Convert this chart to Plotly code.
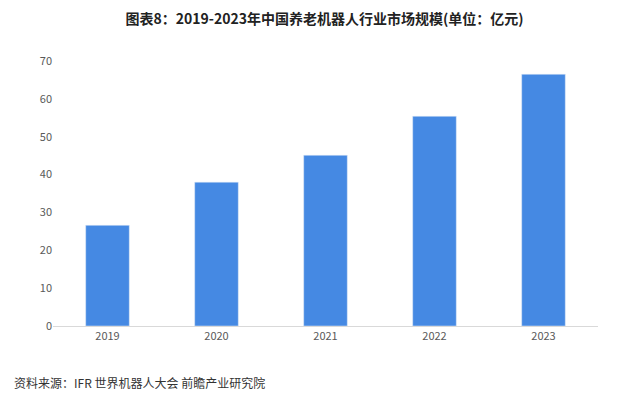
import plotly.graph_objects as go

years = ["2019", "2020", "2021", "2022", "2023"]
market_size = [26.6, 38.0, 45.1, 55.4, 66.5]
y_ticks = [0, 10, 20, 30, 40, 50, 60, 70]

fig = go.Figure()
fig.add_trace(go.Bar(x=years, y=market_size, marker_color="#4589e3", width=0.4))

fig.update_layout(
    width=633, height=405,
    paper_bgcolor="white", plot_bgcolor="white",
    margin=dict(l=45, r=43, t=53, b=87),
    font=dict(family="Noto Sans CJK SC", color="#595959", size=11),
    title=dict(text="<b>图表8：2019-2023年中国养老机器人行业市场规模(单位：亿元)</b>",
               x=0.5, y=0.985, xanchor="center", yanchor="top",
               font=dict(size=14, color="#222222")),
    showlegend=False,
    bargap=0.6,
)
fig.update_xaxes(showline=True, linecolor="#d9d9d9", ticks="", tickfont=dict(size=11))
fig.update_yaxes(range=[0, 70], tickvals=y_ticks, showgrid=False, zeroline=False,
                 tickfont=dict(size=11))
fig.add_annotation(text="资料来源：IFR 世界机器人大会 前瞻产业研究院", xref="paper", yref="paper",
                   x=-0.075, y=-0.215, xanchor="left", yanchor="middle", showarrow=False,
                   font=dict(size=12, color="#333333"))

fig.write_html("out.html")
